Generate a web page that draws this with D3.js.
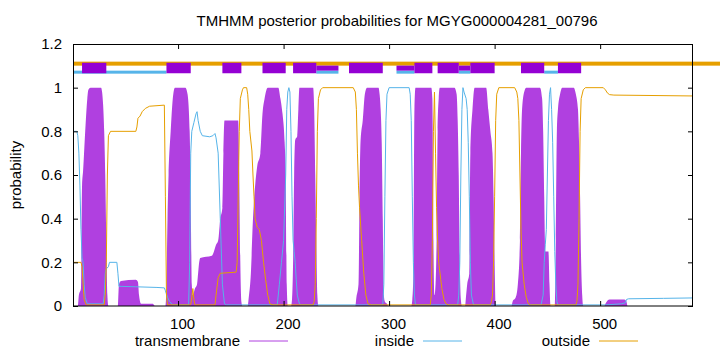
<!DOCTYPE html>
<html>
<head>
<meta charset="utf-8">
<script src="https://cdn.jsdelivr.net/npm/d3@7"></script>
<style>
  body { margin: 0; background: #fff; }
  svg text { font-family: "Liberation Sans", Arial, sans-serif; font-size: 15px; fill: #000; }
</style>
</head>
<body>
<div id="container"></div>
<script>
var width = 720,
    height = 352;

// posterior probabilities, [residue, probability]
var tmPoints = [[1,0],[5,0],[6,0.05],[8,0.08],[9,0.55],[10,0.62],[12,0.8],[14,0.95],[15,0.99],[17,1],[27,1],[28,0.98],[29,0.92],[30,0.8],[31,0.6],[32,0.3],[33,0.05],[34,0],
    [43,0],[44,0.1],[46,0.115],[60,0.12],[62,0.11],[63,0.05],[65,0.01],[76,0.01],[78,0],
    [88,0],[89,0.1],[90,0.4],[91,0.6],[93,0.8],[95,0.95],[97,1],[107,1],[109,0.97],[111,0.8],[112,0.5],[113,0.1],[114,0.05],[116,0.08],[118,0.1],[119,0.15],[120,0.2],[121,0.22],[132,0.23],[134,0.25],[136,0.28],[138,0.3],[140,0.4],[142,0.45],[143,0.7],[144,0.85],[157,0.85],[158,0.6],[159,0.2],[160,0.02],[161,0],
    [166,0],[167,0.04],[169,0.15],[171,0.4],[173,0.55],[175,0.64],[178,0.7],[180,0.88],[182,0.95],[185,1],[195,1],[197,0.95],[199,0.88],[201,0.75],[202,0.6],[203,0.1],[204,0],
    [207,0],[208,0.03],[209,0.2],[210,0.6],[211,0.76],[213,0.78],[214,0.9],[215,1],[228,1],[229,0.9],[230,0.6],[231,0.3],[232,0.05],[233,0],
    [268,0],[269,0.04],[271,0.1],[272,0.5],[273,0.76],[275,0.85],[277,0.97],[279,1],[290,1],[291,0.97],[292,0.9],[293,0.75],[294,0.4],[295,0.05],[296,0.02],[298,0.01],[299,0],
    [321,0],[322,0.03],[323,0.15],[324,0.9],[325,1],[340,1],[341,0.95],[342,0.3],[343,0.05],[344,0.1],[345,0.3],[346,0.8],[347,0.95],[348,1],[362,1],[364,0.97],[365,0.85],[366,0.6],[367,0.2],[368,0.03],[369,0],
    [372,0],[373,0.05],[374,0.1],[376,0.15],[377,0.7],[379,0.9],[381,1],[392,1],[394,0.9],[396,0.8],[398,0.7],[399,0.5],[400,0.2],[401,0],
    [416,0],[417,0.02],[420,0.04],[422,0.1],[424,0.3],[425,0.7],[426,0.9],[428,0.98],[430,1],[443,1],[445,0.95],[446,0.8],[447,0.5],[448,0.25],[451,0.25],[452,0.1],[453,0],[457,0],[458,0.3],[459,0.8],[460,0.9],[462,0.97],[464,1],[475,1],[477,0.97],[479,0.9],[480,0.75],[481,0.5],[482,0.2],[483,0.05],[484,0],
    [504,0],[505,0.01],[507,0.025],[509,0.03],[523,0.03],[525,0.02],[526,0],[588,0]];

var insidePoints = [[1,0.8],[4,0.8],[5,0.78],[6,0.7],[7,0.55],[8,0.35],[9,0.22],[10,0.2],[11,0.1],[12,0.04],[14,0.01],[29,0.01],[30,0.05],[31,0.15],[32,0.17],[34,0.18],[35,0.2],[42,0.2],[43,0.15],[44,0.09],[46,0.09],[60,0.088],[80,0.085],[87,0.083],[88,0.07],[90,0.04],[92,0.02],[95,0.005],
    [110,0.005],[111,0.2],[112,0.7],[113,0.8],[115,0.84],[117,0.88],[118,0.89],[119,0.85],[121,0.8],[123,0.78],[130,0.775],[133,0.78],[135,0.79],[136,0.77],[138,0.7],[140,0.4],[142,0.1],[144,0.01],[146,0.005],
    [194,0.005],[196,0.1],[198,0.2],[200,0.3],[202,0.6],[203,0.9],[204,0.98],[205,1],[206,0.98],[207,0.8],[208,0.5],[209,0.3],[210,0.25],[211,0.2],[212,0.12],[213,0.05],[215,0.01],[217,0.005],
    [294,0.005],[295,0.1],[296,0.5],[297,0.85],[298,0.97],[300,1],[319,1],[320,0.97],[321,0.85],[322,0.5],[323,0.2],[324,0.05],[325,0.005],
    [365,0.005],[366,0.05],[367,0.2],[368,0.6],[369,0.9],[370,1],[371,0.98],[373,0.95],[374,0.9],[375,0.75],[376,0.5],[377,0.2],[378,0.05],[380,0.005],
    [444,0.005],[446,0.05],[447,0.2],[448,0.28],[449,0.35],[450,0.6],[451,0.85],[452,0.97],[453,1],[454,0.9],[455,0.75],[456,0.5],[457,0.25],[458,0.1],[459,0.02],[460,0.005],
    [505,0.005],[520,0.01],[524,0.015],[525,0.03],[527,0.033],[560,0.035],[588,0.037]];

var outsidePoints = [[1,0.2],[8,0.2],[9,0.18],[10,0.1],[11,0.03],[13,0.005],[30,0.005],[31,0.05],[32,0.2],[33,0.6],[34,0.78],[36,0.8],[60,0.8],[61,0.82],[62,0.86],[64,0.87],[66,0.89],[69,0.905],[73,0.915],[87,0.92],[88,0.5],[89,0.05],[90,0.005],
    [112,0.005],[113,0.04],[114,0.08],[115,0.03],[116,0.005],[135,0.005],[136,0.05],[138,0.13],[140,0.15],[155,0.155],[156,0.2],[157,0.5],[158,0.8],[159,0.95],[161,0.99],[162,1],[165,1],[166,0.97],[167,0.9],[168,0.8],[170,0.71],[171,0.6],[172,0.5],[173,0.4],[175,0.36],[177,0.35],[179,0.3],[181,0.2],[183,0.12],[185,0.05],[187,0.01],[190,0.005],
    [228,0.005],[229,0.02],[230,0.1],[231,0.4],[232,0.8],[233,0.95],[235,0.99],[237,1],[266,1],[268,0.98],[269,0.9],[270,0.7],[271,0.55],[272,0.45],[274,0.3],[276,0.15],[278,0.05],[280,0.01],[283,0.005],
    [339,0.005],[340,0.05],[341,0.3],[342,0.8],[343,0.98],[344,0.7],[345,0.45],[346,0.3],[347,0.2],[349,0.12],[350,0.08],[352,0.03],[354,0.01],[356,0.005],
    [396,0.005],[397,0.02],[398,0.05],[399,0.2],[400,0.5],[401,0.85],[402,0.97],[404,1],[419,1],[421,0.98],[422,0.95],[423,0.85],[424,0.6],[425,0.35],[426,0.2],[428,0.1],[430,0.04],[432,0.01],[434,0.005],
    [477,0.005],[478,0.02],[479,0.1],[480,0.4],[481,0.8],[482,0.95],[484,0.99],[486,1],[503,1],[505,0.99],[507,0.975],[509,0.968],[513,0.966],[588,0.962]];

// predicted topology strip at the top
var tmSegments = [[9,32],[89,112],[142,160],[180,202],[209,231],[262,294],[324,341],[346,366],[377,400],[425,447],[460,482]];
var tmThinSegments = [[231,252],[307,324],[366,377]];
var insideSegments = [[1,89],[231,252],[307,324],[366,377],[447,460]];
var outsideSegments = [[1,614]];

var xTicks = [100, 200, 300, 400, 500];
var yTicks = [0, 0.2, 0.4, 0.6, 0.8, 1, 1.2];
var legendNames = ["transmembrane", "inside", "outside"];
var seqLength = 588;

var cTM = "#b040e0", cTMbox = "#9400d3", cIn = "#56b4e9", cOut = "#e69f00";

var svg = d3.select("#container").append("svg")
    .attr("width", width)
    .attr("height", height);

var x = d3.scaleLinear().domain([1, seqLength]).range([73.6, 693]);
var y = d3.scaleLinear().domain([0, 1.2]).range([306, 44]);

// tm area
svg.append("path")
    .datum(tmPoints)
    .attr("d", d3.area().curve(d3.curveMonotoneX).x(d => x(d[0])).y0(y(0)).y1(d => y(d[1])))
    .attr("fill", cTM);

var line = d3.line().x(d => x(d[0])).y(d => y(d[1]));
svg.append("path")
    .datum(insidePoints)
    .attr("d", line)
    .attr("fill", "none")
    .attr("stroke", cIn)
    .attr("stroke-width", 1);
svg.append("path")
    .datum(outsidePoints)
    .attr("d", line)
    .attr("fill", "none")
    .attr("stroke", cOut)
    .attr("stroke-width", 1);

// topology strip
svg.selectAll(".outseg")
    .data(outsideSegments)
    .enter().append("rect")
    .attr("x", d => x(d[0]))
    .attr("width", d => x(d[1]) - x(d[0]))
    .attr("y", y(1.11) - 2)
    .attr("height", 4)
    .attr("fill", cOut);
svg.selectAll(".inseg")
    .data(insideSegments)
    .enter().append("rect")
    .attr("x", d => x(d[0]))
    .attr("width", d => x(d[1]) - x(d[0]))
    .attr("y", y(1.071) - 1.5)
    .attr("height", 3)
    .attr("fill", cIn);
svg.selectAll(".tmthin")
    .data(tmThinSegments)
    .enter().append("rect")
    .attr("x", d => x(d[0]))
    .attr("width", d => x(d[1]) - x(d[0]))
    .attr("y", y(1.101))
    .attr("height", y(1.078) - y(1.101))
    .attr("fill", cTMbox);
svg.selectAll(".tmbox")
    .data(tmSegments)
    .enter().append("rect")
    .attr("x", d => x(d[0]))
    .attr("width", d => x(d[1]) - x(d[0]))
    .attr("y", y(1.114))
    .attr("height", y(1.066) - y(1.114))
    .attr("fill", cTMbox);

// frame + axes
var fmt = d => (d === 0 || d === 1) ? String(d) : d3.format(".1f")(d);
svg.append("g")
    .attr("transform", "translate(0,306)")
    .call(d3.axisBottom(x).tickValues(xTicks).tickSizeInner(-5).tickSizeOuter(0).tickPadding(12))
    .call(g => g.select(".domain").remove())
    .call(g => g.selectAll("text").attr("font-size", null).attr("font-family", null).attr("dx", 4));
svg.append("g")
    .attr("transform", "translate(0,44)")
    .call(d3.axisTop(x).tickValues(xTicks).tickSizeInner(-5).tickSizeOuter(0).tickFormat(""))
    .call(g => g.select(".domain").remove());
svg.append("g")
    .attr("transform", "translate(73,0)")
    .call(d3.axisLeft(y).tickValues(yTicks).tickSizeInner(-5).tickSizeOuter(0).tickPadding(11).tickFormat(fmt))
    .call(g => g.select(".domain").remove())
    .call(g => g.selectAll("text").attr("font-size", null).attr("font-family", null));
svg.append("g")
    .attr("transform", "translate(693,0)")
    .call(d3.axisRight(y).tickValues(yTicks).tickSizeInner(-5).tickSizeOuter(0).tickFormat(""))
    .call(g => g.select(".domain").remove());
svg.selectAll(".tick line").attr("stroke", "#000");

svg.append("rect")
    .attr("x", 73.5).attr("y", 44.5)
    .attr("width", 619).attr("height", 261.5)
    .attr("fill", "none")
    .attr("stroke", "#000")
    .attr("stroke-width", 1);

// labels
svg.append("text")
    .attr("x", 397).attr("y", 26)
    .attr("text-anchor", "middle")
    .text("TMHMM posterior probabilities for MGYG000004281_00796");
svg.append("text")
    .attr("transform", "translate(21,175) rotate(-90)")
    .attr("text-anchor", "middle")
    .text("probability");

// legend
var legendEnd = [240, 414, 590];
var legendColors = [cTM, cIn, cOut];
var lg = svg.selectAll(".lg")
    .data(legendNames)
    .enter().append("g");
lg.append("text")
    .attr("x", (d, i) => legendEnd[i])
    .attr("y", 346)
    .attr("text-anchor", "end")
    .text(d => d);
lg.append("line")
    .attr("x1", (d, i) => legendEnd[i] + 9)
    .attr("x2", (d, i) => legendEnd[i] + 48)
    .attr("y1", 341).attr("y2", 341)
    .attr("stroke", (d, i) => legendColors[i])
    .attr("stroke-width", 1);
</script>
</body>
</html>
